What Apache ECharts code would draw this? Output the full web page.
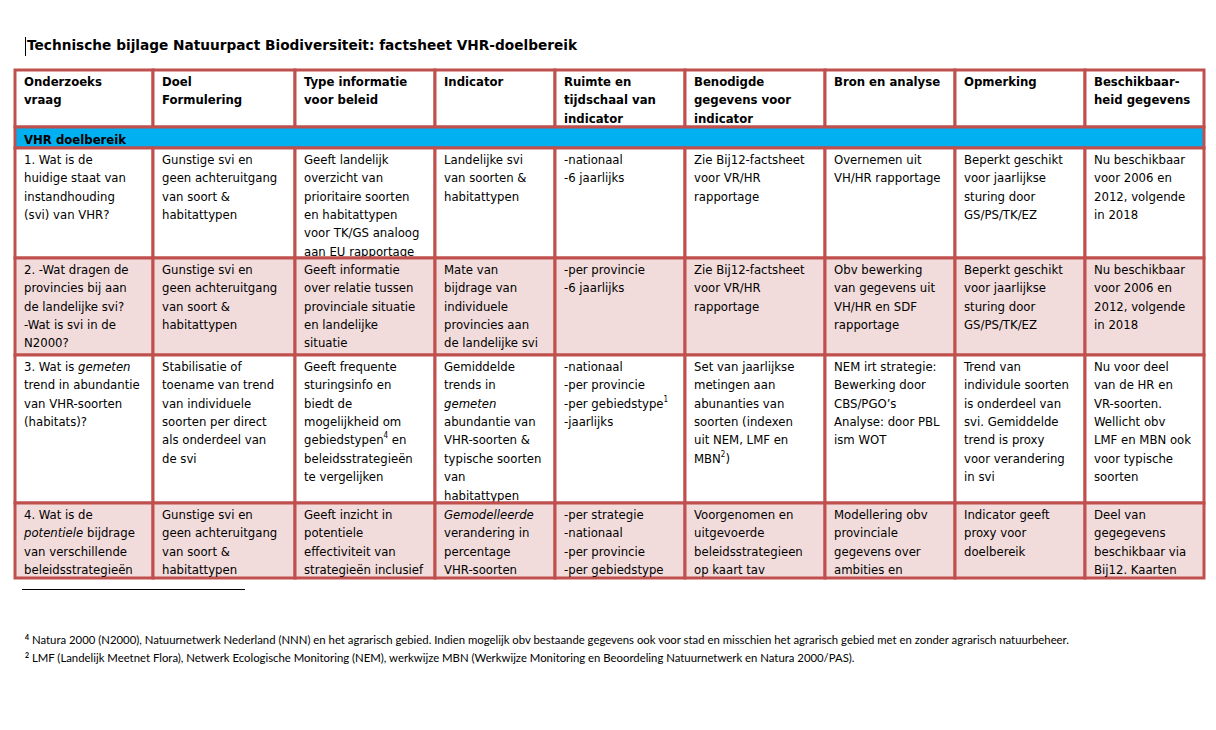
<!DOCTYPE html>
<html>
<head>
<meta charset="utf-8">
<script src="https://cdn.jsdelivr.net/npm/echarts@6/dist/echarts.min.js"></script>
<style>
html,body{margin:0;padding:0;background:#fff;}
#chart{width:1216px;height:730px;}
</style>
</head>
<body>
<div id="chart"></div>
<script>
// ---------- DATA ----------
const titleText = 'Technische bijlage Natuurpact Biodiversiteit: factsheet VHR-doelbereik';
const headers = [
  'Onderzoeks\nvraag',
  'Doel\nFormulering',
  'Type informatie\nvoor beleid',
  'Indicator',
  'Ruimte en\ntijdschaal van\nindicator',
  'Benodigde\ngegevens voor\nindicator',
  'Bron en analyse',
  'Opmerking',
  'Beschikbaar-\nheid gegevens'
];
const sectionLabel = 'VHR doelbereik';
const row1 = [
  '1. Wat is de\nhuidige staat van\ninstandhouding\n(svi) van VHR?',
  'Gunstige svi en\ngeen achteruitgang\nvan soort &\nhabitattypen',
  'Geeft landelijk\noverzicht van\nprioritaire soorten\nen habitattypen\nvoor TK/GS analoog\naan EU rapportage',
  'Landelijke svi\nvan soorten &\nhabitattypen',
  '-nationaal\n-6 jaarlijks',
  'Zie Bij12-factsheet\nvoor VR/HR\nrapportage',
  'Overnemen uit\nVH/HR rapportage',
  'Beperkt geschikt\nvoor jaarlijkse\nsturing door\nGS/PS/TK/EZ',
  'Nu beschikbaar\nvoor 2006 en\n2012, volgende\nin 2018'
];
const row2 = [
  '2. -Wat dragen de\nprovincies bij aan\nde landelijke svi?\n-Wat is svi in de\nN2000?',
  'Gunstige svi en\ngeen achteruitgang\nvan soort &\nhabitattypen',
  'Geeft informatie\nover relatie tussen\nprovinciale situatie\nen landelijke\nsituatie',
  'Mate van\nbijdrage van\nindividuele\nprovincies aan\nde landelijke svi',
  '-per provincie\n-6 jaarlijks',
  'Zie Bij12-factsheet\nvoor VR/HR\nrapportage',
  'Obv bewerking\nvan gegevens uit\nVH/HR en SDF\nrapportage',
  'Beperkt geschikt\nvoor jaarlijkse\nsturing door\nGS/PS/TK/EZ',
  'Nu beschikbaar\nvoor 2006 en\n2012, volgende\nin 2018'
];
const row3 = [
  '3. Wat is {i|gemeten}\ntrend in abundantie\nvan VHR-soorten\n(habitats)?',
  'Stabilisatie of\ntoename van trend\nvan individuele\nsoorten per direct\nals onderdeel van\nde svi',
  'Geeft frequente\nsturingsinfo en\nbiedt de\nmogelijkheid om\ngebiedstypen{sup|4} en\nbeleidsstrategieën\nte vergelijken',
  'Gemiddelde\ntrends in\n{i|gemeten}\nabundantie van\nVHR-soorten &\ntypische soorten\nvan\nhabitattypen',
  '-nationaal\n-per provincie\n-per gebiedstype{sup|1}\n-jaarlijks',
  'Set van jaarlijkse\nmetingen aan\nabunanties van\nsoorten (indexen\nuit NEM, LMF en\nMBN{sup|2})',
  'NEM irt strategie:\nBewerking door\nCBS/PGO’s\nAnalyse: door PBL\nism WOT',
  'Trend van\nindividule soorten\nis onderdeel van\nsvi. Gemiddelde\ntrend is proxy\nvoor verandering\nin svi',
  'Nu voor deel\nvan de HR en\nVR-soorten.\nWellicht obv\nLMF en MBN ook\nvoor typische\nsoorten'
];
const row4 = [
  '4. Wat is de\n{i|potentiele} bijdrage\nvan verschillende\nbeleidsstrategieën',
  'Gunstige svi en\ngeen achteruitgang\nvan soort &\nhabitattypen',
  'Geeft inzicht in\npotentiele\neffectiviteit van\nstrategieën inclusief',
  '{i|Gemodelleerde}\nverandering in\npercentage\nVHR-soorten',
  '-per strategie\n-nationaal\n-per provincie\n-per gebiedstype',
  'Voorgenomen en\nuitgevoerde\nbeleidsstrategieen\nop kaart tav',
  'Modellering obv\nprovinciale\ngegevens over\nambities en',
  'Indicator geeft\nproxy voor\ndoelbereik',
  'Deel van\ngegegevens\nbeschikbaar via\nBij12. Kaarten'
];
const footnote1 = '{s|4} Natura 2000 (N2000), Natuurnetwerk Nederland (NNN) en het agrarisch gebied. Indien mogelijk obv bestaande gegevens ook voor stad en misschien het agrarisch gebied met en zonder agrarisch natuurbeheer.';
const footnote2 = '{s|2} LMF (Landelijk Meetnet Flora), Netwerk Ecologische Monitoring (NEM), werkwijze MBN (Werkwijze Monitoring en Beoordeling Natuurnetwerk en Natura 2000/PAS).';

// ---------- LAYOUT (page units) ----------
const colEdges = [15, 153, 295, 435, 555, 685, 825, 955, 1085, 1204];
const rowEdges = [70, 127, 148, 258, 355, 503, 578];

const FONT = "'DejaVu Sans Condensed', 'DejaVu Sans', sans-serif";
const LH = 18.4;
const RED = '#C0504D';
const BLUE = '#00B0F0';
const PINK = '#F2DBDB';

const tableRows = [headers, null, row1, row2, row3, row4];
const cells = [];
tableRows.forEach(function (row, r) {
  if (row === null) { cells.push([0, r, 1]); return; }
  row.forEach(function (_, c) { cells.push([c, r, r === 0 ? 2 : 0]); });
});

function fillFor(r) {
  if (r === 1) return BLUE;
  if (r === 3 || r === 5) return PINK;
  return '#fff';
}

function richFor(bold) {
  const w = bold ? 'bold' : 'normal';
  return {
    i: { fontFamily: FONT, fontSize: 13, fontStyle: 'italic', fontWeight: w, lineHeight: LH, fill: '#000' },
    sup: { fontFamily: FONT, fontSize: 8, fontWeight: w, lineHeight: LH, fill: '#000', padding: [0, 0, 8, 0] }
  };
}

function renderItem(params, api) {
  const c = api.value(0), r = api.value(1), kind = api.value(2);
  const span = kind === 1 ? 9 : 1;
  const p0 = api.coord([colEdges[c], rowEdges[r]]);
  const p1 = api.coord([colEdges[c + span], rowEdges[r + 1]]);
  const text = kind === 1 ? sectionLabel : tableRows[r][c];
  const bold = kind !== 0;
  return {
    type: 'group',
    children: [
      {
        type: 'rect',
        shape: { x: p0[0], y: p0[1], width: p1[0] - p0[0], height: p1[1] - p0[1] },
        style: { fill: fillFor(r), stroke: RED, lineWidth: 3 }
      },
      {
        type: 'text',
        x: p0[0] + 9,
        y: p0[1] + (kind === 1 ? 3.5 : 2.2),
        style: {
          text: text,
          fontFamily: FONT,
          fontSize: 13,
          fontWeight: bold ? 'bold' : 'normal',
          lineHeight: LH,
          fill: '#000',
          align: 'left',
          verticalAlign: 'top',
          rich: richFor(bold)
        }
      }
    ]
  };
}

const chart = echarts.init(document.getElementById('chart'), null, { renderer: 'svg' });
chart.setOption({
  backgroundColor: '#fff',
  animation: false,
  title: {
    text: titleText,
    left: 27,
    top: 38,
    padding: 0,
    textStyle: { fontFamily: "'DejaVu Sans', sans-serif", fontSize: 13.7, fontWeight: 'bold', color: '#000' }
  },
  grid: { left: 0, right: 0, top: 0, bottom: 0 },
  xAxis: { type: 'value', min: 0, max: 1216, show: false },
  yAxis: { type: 'value', min: 0, max: 730, inverse: true, show: false },
  series: [{
    type: 'custom',
    renderItem: renderItem,
    data: cells,
    clip: false,
    silent: true
  }],
  graphic: [
    { type: 'line', shape: { x1: 25.5, y1: 37, x2: 25.5, y2: 56 }, style: { stroke: '#000', lineWidth: 1 } },
    { type: 'line', shape: { x1: 22, y1: 589.5, x2: 245, y2: 589.5 }, style: { stroke: '#000', lineWidth: 1 } },
    {
      type: 'text', left: 25, top: 633,
      style: {
        text: footnote1, fontFamily: 'Lato, sans-serif', fontSize: 11.35, fill: '#000',
        rich: { s: { fontFamily: 'Lato, sans-serif', fontSize: 7, fontWeight: 'bold', fill: '#000', padding: [0, 0, 6, 0] } }
      }
    },
    {
      type: 'text', left: 25, top: 651,
      style: {
        text: footnote2, fontFamily: 'Lato, sans-serif', fontSize: 11.35, fill: '#000',
        rich: { s: { fontFamily: 'Lato, sans-serif', fontSize: 7, fontWeight: 'bold', fill: '#000', padding: [0, 0, 6, 0] } }
      }
    }
  ]
});
</script>
</body>
</html>
